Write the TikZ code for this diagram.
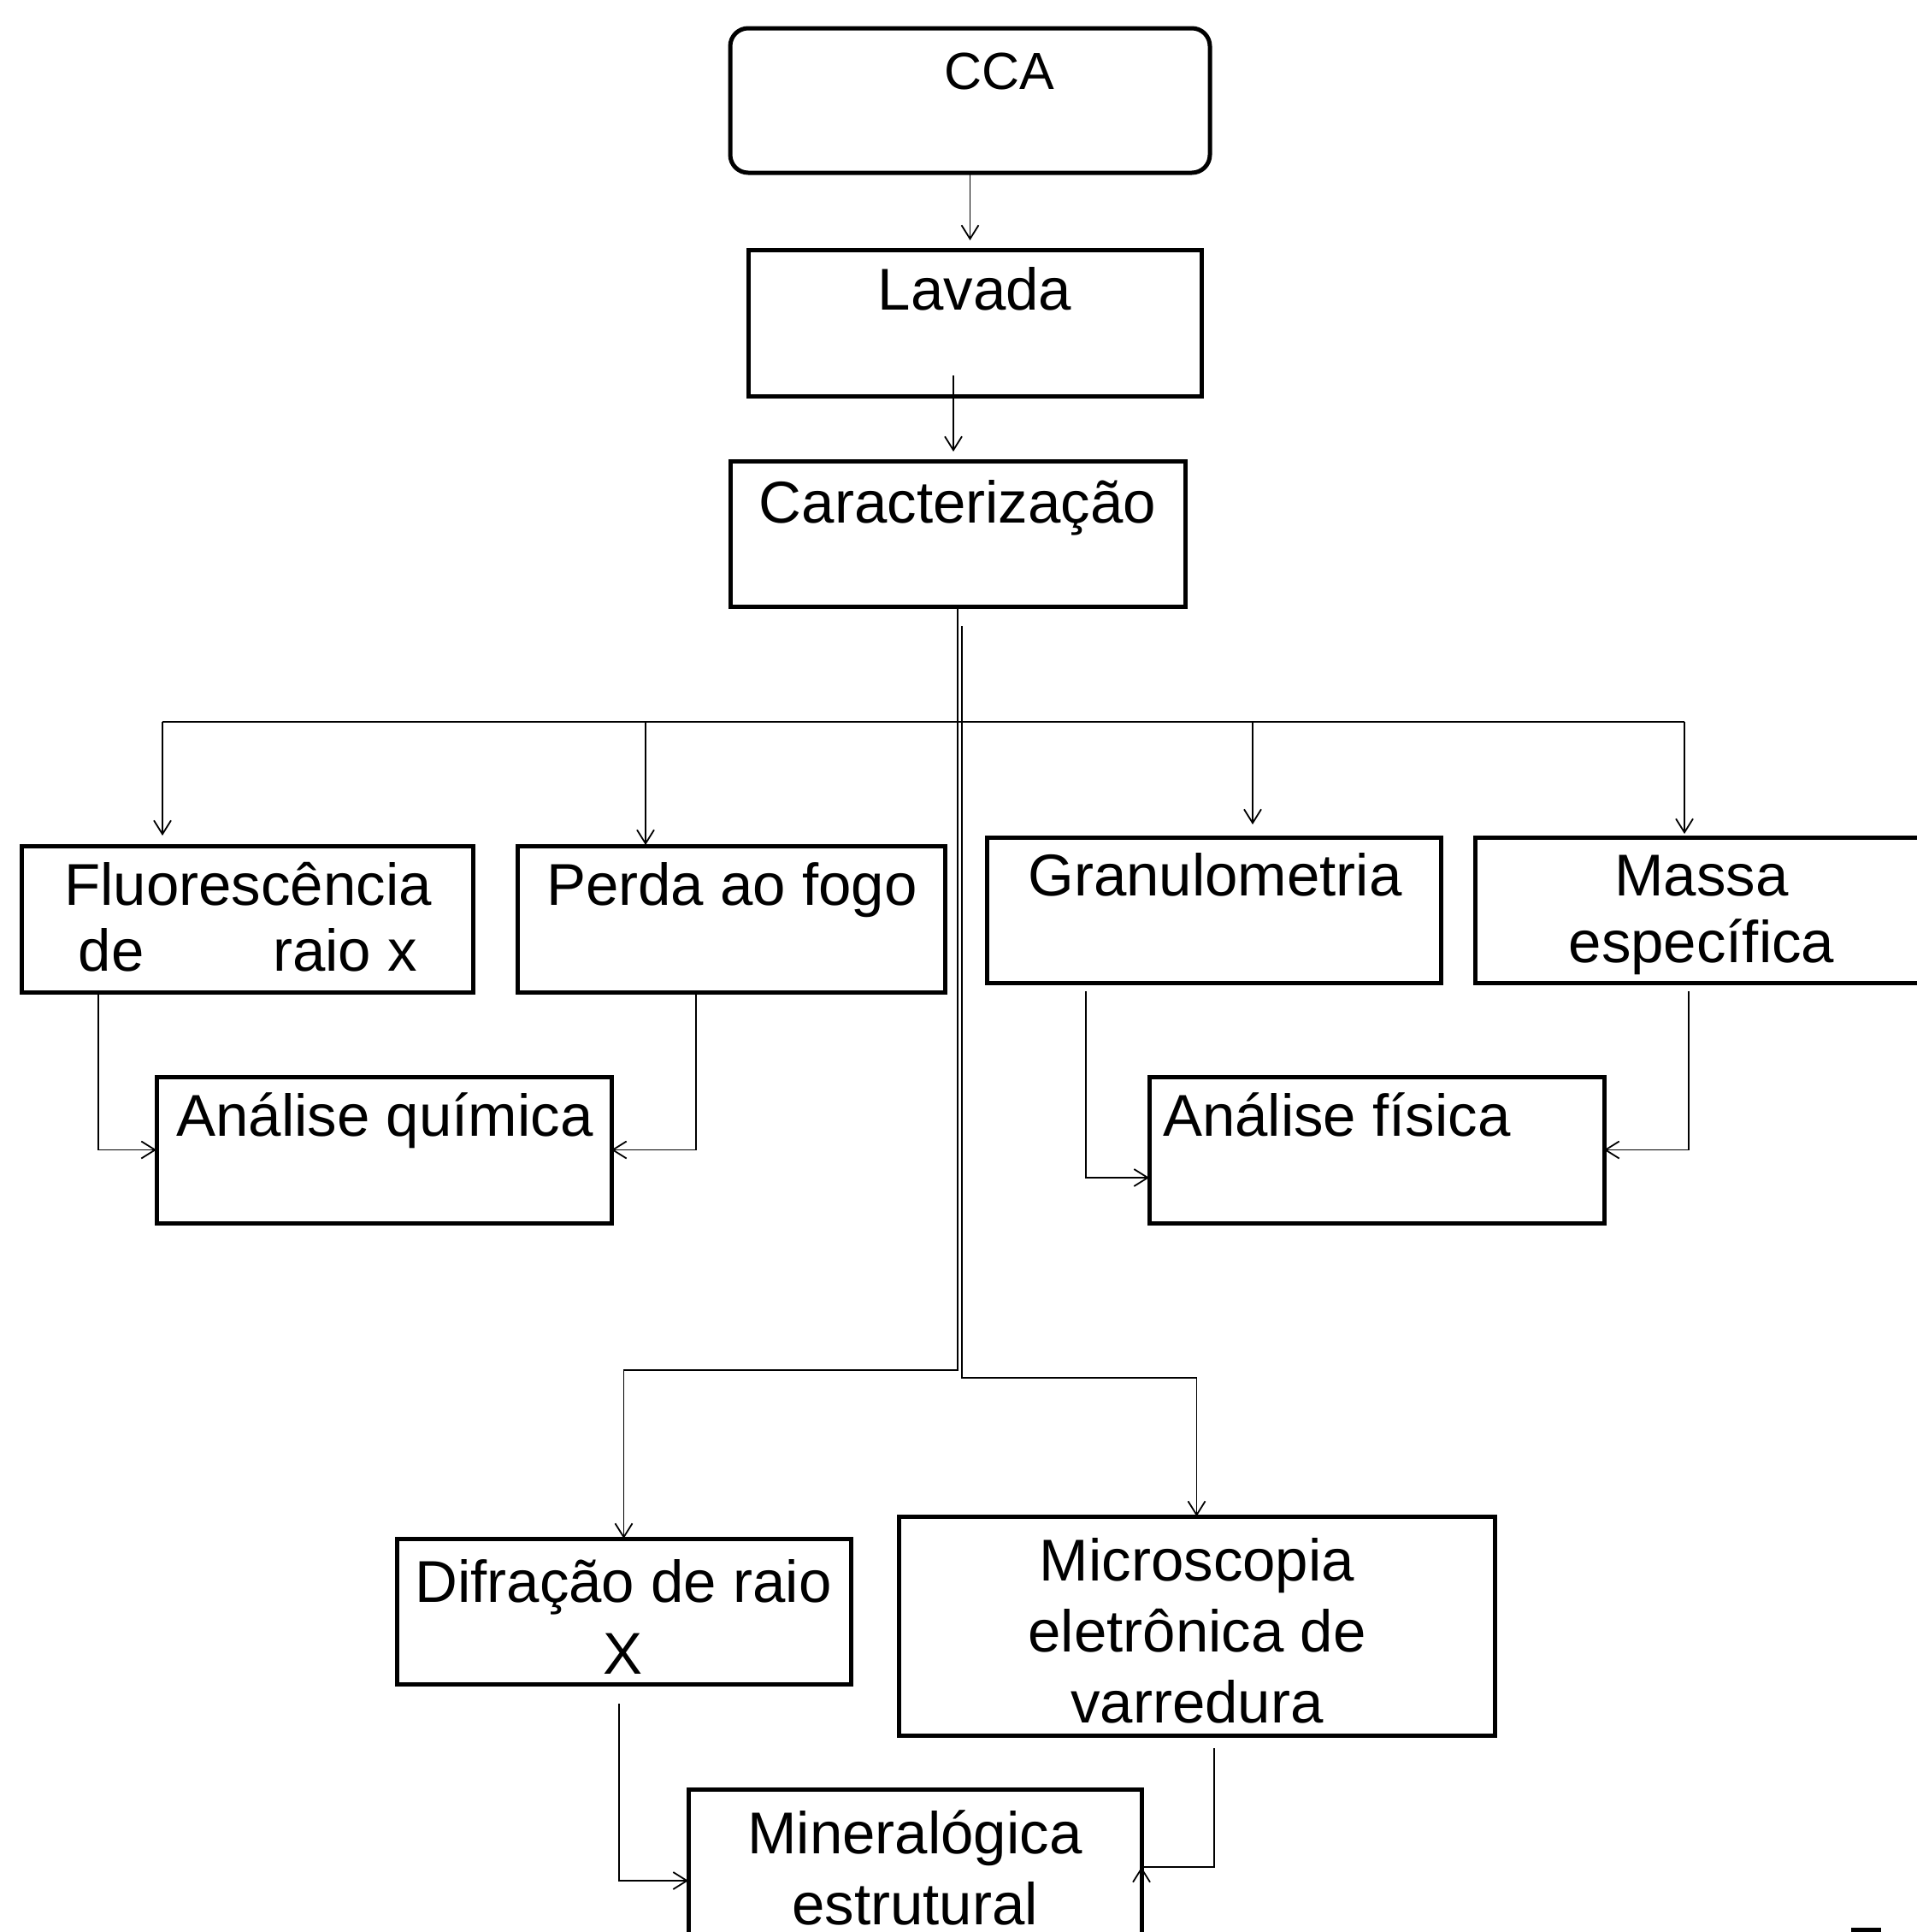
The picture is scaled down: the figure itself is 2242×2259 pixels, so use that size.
\documentclass[tikz,border=0pt]{standalone}
\usepackage{fontspec}
\setmainfont{Liberation Sans}
\usetikzlibrary{arrows.meta,calc}
\newcommand{\mlines}[2]{\parbox[t]{300pt}{\centering\fontsize{34.5pt}{#1}\selectfont #2}}
\tikzset{
  box/.style={draw, line width=2.5pt, inner sep=0pt, outer sep=0pt, anchor=north west},
  conn/.style={line width=0.9pt},
  arr/.style={conn, -{Straight Barb[length=8pt,width=10pt]}},
  txt/.style={inner sep=0pt, outer sep=0pt, anchor=base, font=\fontsize{34.5pt}{41.5pt}\selectfont},
}
\begin{document}
\begin{tikzpicture}[x=0.5pt,y=-0.5pt]
\useasboundingbox (0,0) rectangle (2242,2259);

% boxes
\node[box, rounded corners=10.5pt, minimum width=280.5pt, minimum height=84.5pt] (cca) at (854,33) {};
\node[box, minimum width=265pt, minimum height=85.5pt] (lav) at (875,292) {};
\node[box, minimum width=266pt, minimum height=85pt] (car) at (854,539) {};
\node[box, minimum width=264pt, minimum height=85.5pt] (flu) at (25,989) {};
\node[box, minimum width=250pt, minimum height=85.5pt] (per) at (605,989) {};
\node[box, minimum width=265.5pt, minimum height=85pt] (gra) at (1154,979) {};
\node[box, minimum width=265.5pt, minimum height=85pt] (mas) at (1725,979) {};
\node[box, minimum width=266pt, minimum height=85.5pt] (qui) at (183,1259) {};
\node[box, minimum width=266pt, minimum height=85.5pt] (fis) at (1344,1259) {};
\node[box, minimum width=265.5pt, minimum height=85pt] (dif) at (464,1799) {};
\node[box, minimum width=348.5pt, minimum height=128pt] (mic) at (1051,1773) {};
\node[box, minimum width=265pt, minimum height=85pt] (min) at (805,2092) {};

% texts
\node[txt, font=\fontsize{30.5pt}{36pt}\selectfont] (tcca) at (1169,104) {CCA};
\node[txt] (tlav) at (1140,362) {Lavada};
\node[txt] (tcar) at (1120,611) {Caracterização};
\node[txt] (tflu) at (290,1058) {\mlines{38.5pt}{Fluorescência\\\makebox[198pt]{de\hfill raio x}}};
\node[txt] (tper) at (856,1058) {Perda ao fogo};
\node[txt] (tqui) at (450,1328) {Análise química};
\node[txt] (tgra) at (1421,1047) {Granulometria};
\node[txt] (tmas) at (1990,1047) {\mlines{39pt}{Massa\\específica}};
\node[txt, anchor=base west] (tfis) at (1360,1328) {Análise física};
\node[txt] (tdif) at (729,1873) {\mlines{42pt}{Difração de raio\\X}};
\node[txt] (tmic) at (1400,1848) {\mlines{41.5pt}{Microscopia\\eletrônica de\\varredura}};
\node[txt] (tmin) at (1070,2167) {\mlines{41.5pt}{Mineralógica\\estrutural}};

% coordinates
\coordinate (lavout) at ($(lav.south)+(-12.5pt,12pt)$);
\coordinate (busL) at (190,844);
\coordinate (busP) at (755,844);
\coordinate (busG) at (1465,844);
\coordinate (busR) at (1970,844);
\coordinate (fluout) at ($(flu.south west)+(45pt,0pt)$);
\coordinate (perout) at ($(per.south west)+(104.5pt,0pt)$);
\coordinate (graout) at ($(gra.south west)+(58pt,-5pt)$);
\coordinate (fisin) at ($(fis.west)+(0pt,-16.25pt)$);
\coordinate (masout) at ($(mas.south west)+(125pt,-5pt)$);
\coordinate (difout) at ($(dif.south west)+(130pt,-11.5pt)$);
\coordinate (minin) at ($(min.west)+(0pt,-11pt)$);
\coordinate (micout) at ($(mic.south west)+(184.5pt,-7.5pt)$);
\coordinate (minr) at ($(min.east)+(0pt,-3pt)$);
\coordinate (minr2) at ($(min.east)+(0pt,-12pt)$);
\coordinate (carout2) at ($(car.south)+(2.5pt,-11.5pt)$);

% connectors
\draw[arr, shorten >=5.5pt] (cca.south) -- (cca.south |- lav.north);
\draw[arr, shorten >=5.5pt] (lavout) -- (lavout |- car.north);
\draw[arr] (car.south) -- ++(0pt,-446.5pt) -| (dif.north);
\draw[arr] (carout2) -- ++(0pt,-439.5pt) -| (mic.north);

\draw[conn] (busL) -- (busR);
\draw[arr, shorten >=6pt] (busL) -- (busL |- flu.north);
\draw[arr, shorten >=0.5pt] (busP) -- (busP |- per.north);
\draw[arr, shorten >=7.5pt] (busG) -- (busG |- gra.north);
\draw[arr, shorten >=2pt] (busR) -- (busR |- mas.north);

\draw[arr] (fluout) |- (qui.west);
\draw[arr] (perout) |- (qui.east);
\draw[arr] (graout) |- (fisin);
\draw[arr] (masout) |- (fis.east);
\draw[arr] (difout) |- (minin);
\draw[conn] (micout) |- (minr);
\draw[arr] (minr2) -- (minr);

\fill (2165,2254) rectangle (2200,2266);
\end{tikzpicture}
\end{document}
